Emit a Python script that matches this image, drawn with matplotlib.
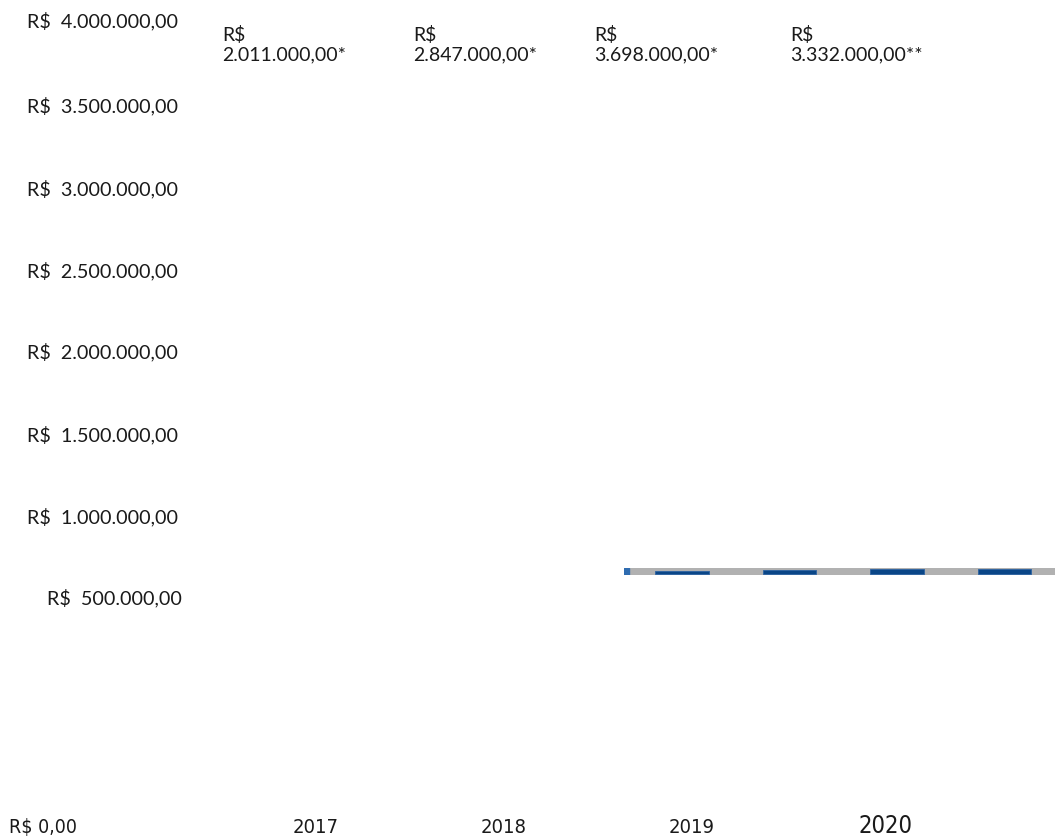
import matplotlib.pyplot as plt
from matplotlib.patches import Rectangle

########################## data ##########################
years = ['2017', '2018', '2019', '2020']
values = [2011000, 2847000, 3698000, 3332000]
value_labels = ['R$\n2.011.000,00*', 'R$\n2.847.000,00*', 'R$\n3.698.000,00*', 'R$\n3.332.000,00**']
yticks = [4000000, 3500000, 3000000, 2500000, 2000000, 1500000, 1000000, 500000]
ytick_labels = ['R$  4.000.000,00', 'R$  3.500.000,00', 'R$  3.000.000,00', 'R$  2.500.000,00',
                'R$  2.000.000,00', 'R$  1.500.000,00', 'R$  1.000.000,00', 'R$  500.000,00']
zero_label = 'R$ 0,00'

########################## layout (pixels) ##########################
W, H = 1055, 836
tick_base = [27, 112, 195, 277, 358, 441, 523, 604]
tick_x = [27, 27, 27, 27, 27, 27, 27, 47]
label_x = [222, 413, 594, 790]
label_base = [41, 60]
year_x = [293, 481, 669, 859]

def fx(px):
    return px / W

def fy(py):
    return 1 - py / H

fig = plt.figure(figsize=(W / 100, H / 100), dpi=100)
fig.patch.set_facecolor('white')

font = 'Lato'
narrow = ['Liberation Sans Narrow', 'DejaVu Sans']

for t, y, x in zip(ytick_labels, tick_base, tick_x):
    fig.text(fx(x), fy(y), t, fontsize=14.2, family=font, color='#1a1a1a', va='baseline', ha='left')

fig.text(fx(9), fy(833), zero_label, fontsize=14, family=narrow, fontstretch='condensed',
         color='#1a1a1a', va='baseline', ha='left')

for lab, x in zip(value_labels, label_x):
    for line, b in zip(lab.split('\n'), label_base):
        fig.text(fx(x), fy(b), line, fontsize=14, family=font, color='#1a1a1a',
                 va='baseline', ha='left')

for yr, x in zip(years, year_x):
    fig.text(fx(x), fy(833), yr, fontsize=17 if yr == '2020' else 14.5, family=narrow,
             fontstretch='condensed', color='#1a1a1a', va='baseline', ha='left')

########################## tiny bar strip ##########################
px_per_val = 5 / 3698000.0
ax_left, ax_right = 624, 1055
ax_top, ax_bot = 568, 575
base = 574
ax = fig.add_axes([fx(ax_left), fy(ax_bot), (ax_right - ax_left) / W, (ax_bot - ax_top) / H])
ax.set_facecolor('#b1b1b1')
ax.bar(range(len(values)), values, width=0.5, color='#0a4687', edgecolor='#2b62a3', linewidth=0.6)
ax.set_xlim(-0.54, 3.47)
ax.set_ylim(-(ax_bot - base) / px_per_val, (base - ax_top) / px_per_val)
ax.add_patch(Rectangle((0, 0), 5 / (ax_right - ax_left), 1, transform=ax.transAxes,
                       color='#2f6cb0', zorder=5))
for s in ax.spines.values():
    s.set_visible(False)
ax.set_xticks([])
ax.set_yticks([])

fig.savefig('out.png', dpi=100)
